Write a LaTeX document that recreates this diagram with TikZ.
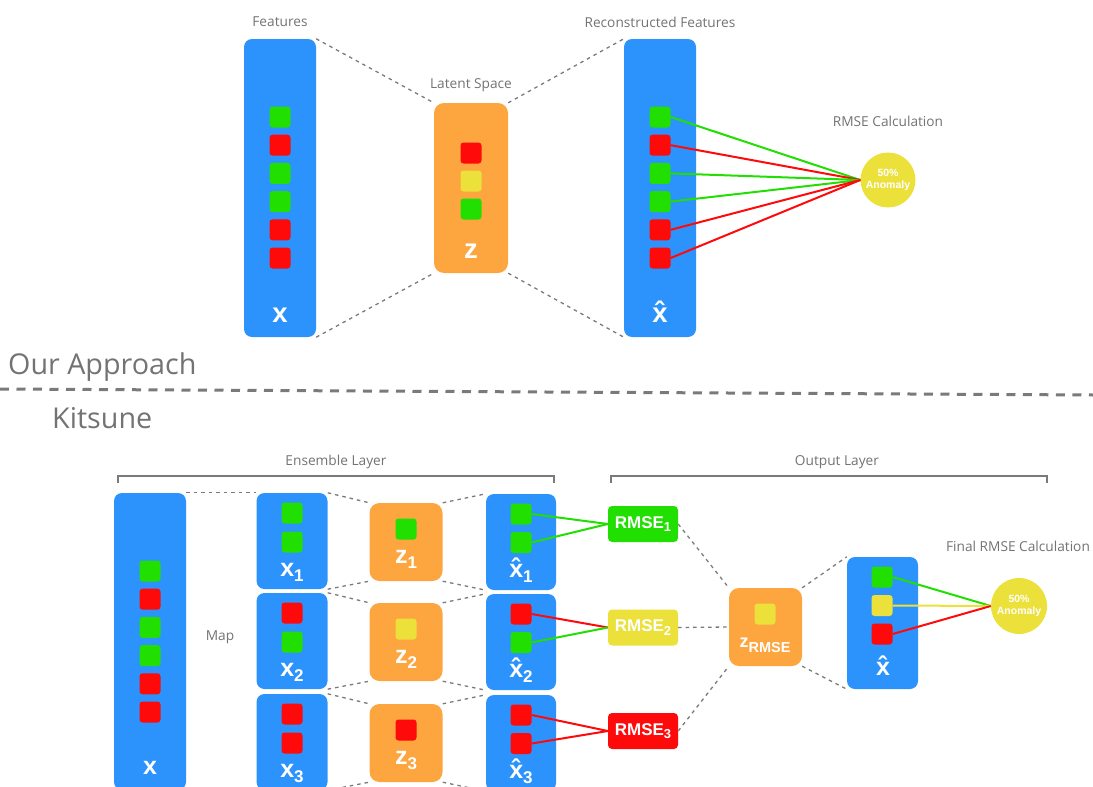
\documentclass[tikz,border=0pt]{standalone}
\usepackage{fontspec}
\setmainfont{Open Sans}
\newfontfamily\labfont{Liberation Sans}

\definecolor{kblue}{HTML}{2C93FD}
\definecolor{korange}{HTML}{FDA53F}
\definecolor{kgreen}{HTML}{22DF02}
\definecolor{kred}{HTML}{FE0A0A}
\definecolor{kyellow}{HTML}{ECE03A}
\definecolor{ktext}{HTML}{737373}
\definecolor{kdash}{HTML}{7A7A7A}

% subscripts for the white vector labels
\newcommand\vsub[1]{\raisebox{-5pt}{\fontsize{17}{17}\selectfont #1}}
\newcommand\rsub[1]{\raisebox{-3.5pt}{\fontsize{13}{13}\selectfont #1}}

\tikzset{
  bluebox/.style={fill=kblue, rounded corners=8pt, inner sep=0pt, minimum width=72pt},
  orbox/.style={fill=korange, rounded corners=10pt, inner sep=0pt, minimum width=74pt},
  cell/.style={minimum size=21pt, rounded corners=3pt, inner sep=0pt},
  caption/.style={text=ktext, font=\fontsize{13.7}{16}\selectfont, inner sep=0pt},
  heading/.style={text=ktext, font=\fontsize{28.7}{32}\selectfont, inner sep=0pt, anchor=base west},
  vec/.style={text=white, font=\labfont\bfseries\fontsize{27.5}{27.5}\selectfont, inner sep=0pt, anchor=base},
  vecs/.style={text=white, font=\labfont\bfseries\fontsize{25}{25}\selectfont, inner sep=0pt, anchor=base},
  link/.style={draw=kdash, line width=1.3pt, dash pattern=on 3.5pt off 4pt},
  wire/.style={line width=2pt},
  rmse/.style={minimum width=70pt, minimum height=36pt, rounded corners=4pt, inner sep=0pt,
               text=white, font=\labfont\bfseries\fontsize{17}{17}\selectfont},
  score/.style={circle, fill=kyellow, minimum size=55pt, inner sep=0pt, text=white, align=center,
                font=\labfont\bfseries\fontsize{10.5}{12.5}\selectfont},
  bracket/.style={draw=kdash, line width=2pt},
  separator/.style={draw=kdash, line width=3pt, dash pattern=on 9pt off 7.5pt}
}

\begin{document}
\begin{tikzpicture}[x=1pt,y=-1pt]
\useasboundingbox (0,0) rectangle (1093,787);
\clip (0,0) rectangle (1093,787);

%% ---------- Our Approach: single autoencoder ----------
\node[bluebox, minimum height=298pt] (X) at (280,188) {};
\node[orbox, minimum height=170pt] (Z) at (471,188) {};
\node[bluebox, minimum height=298pt] (XH) at (660,188) {};

\foreach \c [count=\i] in {kgreen,kred,kgreen,kgreen,kred,kred} {
  \node[cell, fill=\c] (xa\i) at (280,{117+28.2*(\i-1)}) {};
  \node[cell, fill=\c] (xha\i) at (660,{117+28.2*(\i-1)}) {};
}
\foreach \c [count=\i] in {kred,kyellow,kgreen}
  \node[cell, fill=\c] (za\i) at (471,{153+28*(\i-1)}) {};

\node[vec] (xlab) at (280,322) {x};
\node[vec] (zlab) at (471,258) {z};
\node[vec] (xhlab) at (660,322) {\^x};

\node[caption] (featcap) at (280,22) {Features};
\node[caption] (latcap) at (471,85) {Latent Space};
\node[caption] (reccap) at (660,22) {Reconstructed Features};
\node[caption] (rmsecap) at (888,121) {RMSE Calculation};

\node[score] (C) at (888,180) {50\%\\Anomaly};

\draw[link] (X.north east) -- (Z.north west);
\draw[link] (Z.north east) -- (XH.north west);
\draw[link] (X.south east) -- (Z.south west);
\draw[link] (Z.south east) -- (XH.south west);

\foreach \c [count=\i] in {kgreen,kred,kgreen,kgreen,kred,kred}
  \draw[wire, draw=\c] (xha\i.east) -- (C.west);

%% ---------- section titles ----------
\node[heading] (our) at (8,374) {Our Approach};
\draw[separator] (0,389) -- (1093,395);
\node[heading] (kit) at (52,428) {Kitsune};

%% ---------- Kitsune: ensemble layer ----------
\draw[bracket] (118,483) -- (118,476) -- (554,476) -- (554,483);
\node[caption] (enscap) at (336,462) {Ensemble Layer};
\draw[bracket] (611,483) -- (611,476) -- (1047,476) -- (1047,483);
\node[caption] (outcap) at (837,462) {Output Layer};
\node[caption] (mapcap) at (220,637) {Map};
\node[caption] (fincap) at (1018,546) {Final RMSE Calculation};

\node[bluebox, minimum height=297pt] (BX) at (150,641.5) {};
\foreach \c [count=\i] in {kgreen,kred,kgreen,kgreen,kred,kred}
  \node[cell, fill=\c] (bxa\i) at (150,{571+28.2*(\i-1)}) {};
\node[vecs] (bxlab) at (150,774) {x};

\foreach \k/\yc/\ca/\cb/\cz in {1/541/kgreen/kgreen/kgreen, 2/641/kred/kgreen/kyellow, 3/742/kred/kred/kred} {
  % sub-vector x_k
  \node[bluebox, minimum width=71pt, minimum height=96pt] (X\k) at (292,\yc) {};
  \node[cell, fill=\ca] (x\k a) at (292,\yc-28) {};
  \node[cell, fill=\cb] (x\k b) at (292,\yc+1) {};
  \node[vecs] (x\k lab) at (292,\yc+35.5) {x\vsub{\k}};
  % latent code z_k
  \node[orbox, minimum width=73pt, minimum height=78pt] (Z\k) at (406,\yc+1) {};
  \node[cell, fill=\cz] (z\k a) at (406,\yc-12) {};
  \node[vecs] (z\k lab) at (406,\yc+22) {z\vsub{\k}};
  % reconstruction
  \node[bluebox, minimum width=70pt, minimum height=96pt] (XH\k) at (521,\yc+1) {};
  \node[cell, fill=\ca] (xh\k a) at (521,\yc-27) {};
  \node[cell, fill=\cb] (xh\k b) at (521,\yc+1.5) {};
  \node[vecs] (xh\k lab) at (521,\yc+36) {\^x\vsub{\k}};
  % dashed encoder/decoder outlines
  \draw[link] (X\k.north east) -- (Z\k.north west);
  \draw[link] (Z\k.north east) -- (XH\k.north west);
  \draw[link] (X\k.south east) -- (Z\k.south west);
  \draw[link] (Z\k.south east) -- (XH\k.south west);
}
\draw[link] (BX.north east) -- (X1.north west);

%% ---------- Kitsune: output layer ----------
\node[rmse, fill=kgreen] (R1) at (643,524) {RMSE\rsub{1}};
\node[rmse, fill=kyellow] (R2) at (643,627.5) {RMSE\rsub{2}};
\node[rmse, fill=kred] (R3) at (643,731) {RMSE\rsub{3}};

\draw[wire, draw=kgreen] (xh1a.east) -- (R1.west);
\draw[wire, draw=kgreen] (xh1b.east) -- (R1.west);
\draw[wire, draw=kred] (xh2a.east) -- (R2.west);
\draw[wire, draw=kgreen] (xh2b.east) -- (R2.west);
\draw[wire, draw=kred] (xh3a.east) -- (R3.west);
\draw[wire, draw=kred] (xh3b.east) -- (R3.west);

\node[orbox, minimum width=73pt, minimum height=78pt] (ZR) at (765.5,627) {};
\node[cell, fill=kyellow] (zra) at (765,614) {};
\node[text=white, inner sep=0pt, anchor=base] (zrlab) at (765,647)
  {\labfont\bfseries\fontsize{18}{18}\selectfont z\raisebox{-5pt}{\fontsize{14.5}{14.5}\selectfont RMSE}};

\draw[link] (R1.east) -- (ZR.north west);
\draw[link] (R2.east) -- (ZR.west);
\draw[link] (R3.east) -- (ZR.south west);

\node[bluebox, minimum width=71pt, minimum height=132pt] (XF) at (882.5,623) {};
\foreach \c [count=\i] in {kgreen,kyellow,kred}
  \node[cell, fill=\c] (xfa\i) at (882,{577+28.5*(\i-1)}) {};
\node[vecs] (xflab) at (883,675) {\^x};

\draw[link] (ZR.north east) -- (XF.north west);
\draw[link] (ZR.south east) -- (XF.south west);

\node[score, minimum size=56pt] (C2) at (1019,606) {50\%\\Anomaly};
\foreach \c [count=\i] in {kgreen,kyellow,kred}
  \draw[wire, draw=\c] (xfa\i.east) -- (C2.west);

\end{tikzpicture}
\end{document}
